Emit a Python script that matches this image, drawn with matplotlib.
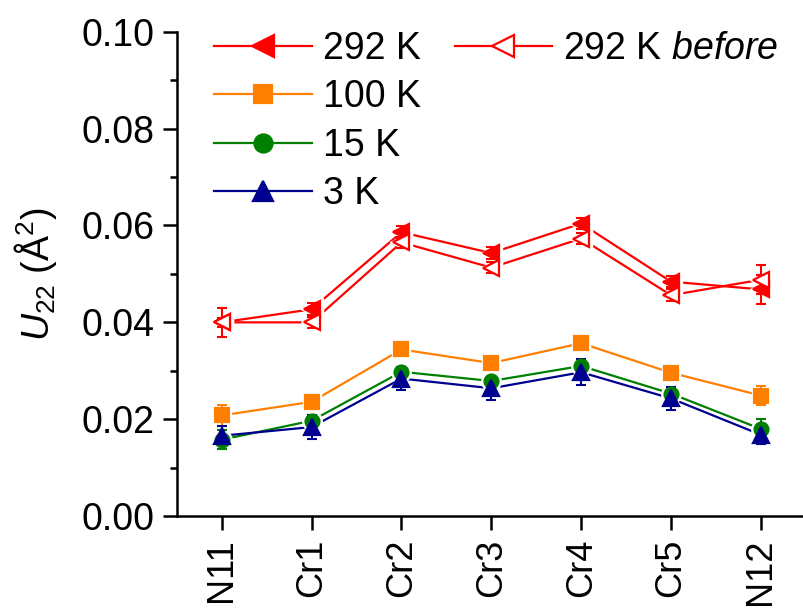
import matplotlib
matplotlib.use('Agg')
import matplotlib.pyplot as plt
from matplotlib.lines import Line2D
from matplotlib.ticker import MultipleLocator, FormatStrFormatter

plt.rcParams['font.family'] = ['Liberation Sans', 'DejaVu Sans']
plt.rcParams['mathtext.fontset'] = 'custom'
plt.rcParams['mathtext.rm'] = 'Liberation Sans'
plt.rcParams['mathtext.it'] = 'Liberation Sans:italic'

# atom sites along the chain
atoms = ['N11', 'Cr1', 'Cr2', 'Cr3', 'Cr4', 'Cr5', 'N12']

# U22 values and errors for each temperature
u292 = [0.0400, 0.0427, 0.0586, 0.0543, 0.0604, 0.0484, 0.0468]
e292 = [0.0010, 0.0012, 0.0012, 0.0012, 0.0012, 0.0012, 0.0030]
u292_before = [0.0400, 0.0400, 0.0565, 0.0513, 0.0573, 0.0456, 0.0488]
e292_before = [0.0030, 0.0012, 0.0012, 0.0012, 0.0012, 0.0012, 0.0030]
u100 = [0.0208, 0.0236, 0.0344, 0.0316, 0.0357, 0.0296, 0.0249]
e100 = [0.0021, 0.0006, 0.0006, 0.0006, 0.0006, 0.0006, 0.0020]
u15 = [0.0158, 0.0197, 0.0298, 0.0279, 0.0310, 0.0253, 0.0180]
e15 = [0.0020, 0.0008, 0.0008, 0.0008, 0.0008, 0.0008, 0.0020]
u3 = [0.0166, 0.0184, 0.0284, 0.0264, 0.0297, 0.0243, 0.0168]
e3 = [0.0020, 0.0024, 0.0024, 0.0024, 0.0027, 0.0024, 0.0020]

x = list(range(len(atoms)))

fig = plt.figure(figsize=(8.04, 6.08), dpi=100)
ax = fig.add_axes([0.220, 0.151, 0.780, 0.797])


# Origin-like series: line with a small white gap around each marker
def series(y, err, color, marker, ms, z, face=None):
    ax.plot(x, y, '-', color=color, linewidth=1.6, zorder=2)
    ax.plot(x, y, linestyle='none', marker=marker, markersize=ms + 4,
            markerfacecolor='white', markeredgecolor='white', zorder=3)
    ax.errorbar(x, y, yerr=err, fmt='none', ecolor=color, elinewidth=1.5,
                capsize=3.5, capthick=1.5, zorder=4)
    ax.plot(x, y, linestyle='none', marker=marker, markersize=ms,
            markerfacecolor=face or color, markeredgecolor=color,
            markeredgewidth=1.6, zorder=5 + z)
    # legend proxy
    return Line2D([], [], color=color, linewidth=1.6, marker=marker,
                  markersize=ms, markerfacecolor=face or color,
                  markeredgecolor=color, markeredgewidth=1.6)


h100 = series(u100, e100, '#FF8000', 's', 9.5, 0)
h15 = series(u15, e15, '#008000', 'o', 10, 1)
h3 = series(u3, e3, '#000090', '^', 11, 2)
h292 = series(u292, e292, '#FF0000', '<', 12, 3)
hbef = series(u292_before, e292_before, '#FF0000', '<', 12, 4, face='white')

ax.set_xlim(-0.5, 6.48)
ax.set_ylim(0, 0.10)
ax.set_xticks(x)
ax.set_xticklabels(atoms, rotation=90, fontsize=26)
ax.yaxis.set_major_locator(MultipleLocator(0.02))
ax.yaxis.set_minor_locator(MultipleLocator(0.01))
ax.yaxis.set_major_formatter(FormatStrFormatter('%.2f'))
ax.tick_params(axis='y', labelsize=27)
ax.tick_params(which='major', direction='out', length=10, width=1.8, pad=6)
ax.tick_params(which='minor', direction='out', length=5, width=1.8)
ax.tick_params(axis='x', which='minor', bottom=False)

for s in ['top', 'right']:
    ax.spines[s].set_visible(False)
for s in ['left', 'bottom']:
    ax.spines[s].set_linewidth(1.8)

ax.set_ylabel('$U_{22}$ (Å$^2$)', fontsize=27, labelpad=16)

blank = Line2D([], [], linestyle='none')
handles = [h292, h100, h15, h3, hbef, blank, blank, blank]
labels = ['292 K', '100 K', '15 K', '3 K', '292 K $\\it{before}$', '', '', '']
ax.legend(handles, labels, ncol=2, loc='upper left',
          bbox_to_anchor=(214 / 804, 1 - 31 / 608), bbox_transform=fig.transFigure,
          frameon=False, fontsize=27, handlelength=2.6, handletextpad=0.3,
          columnspacing=0.9, labelspacing=0.33, borderpad=0, borderaxespad=0,
          markerscale=1.3)

fig.savefig('out.png', dpi=100)
